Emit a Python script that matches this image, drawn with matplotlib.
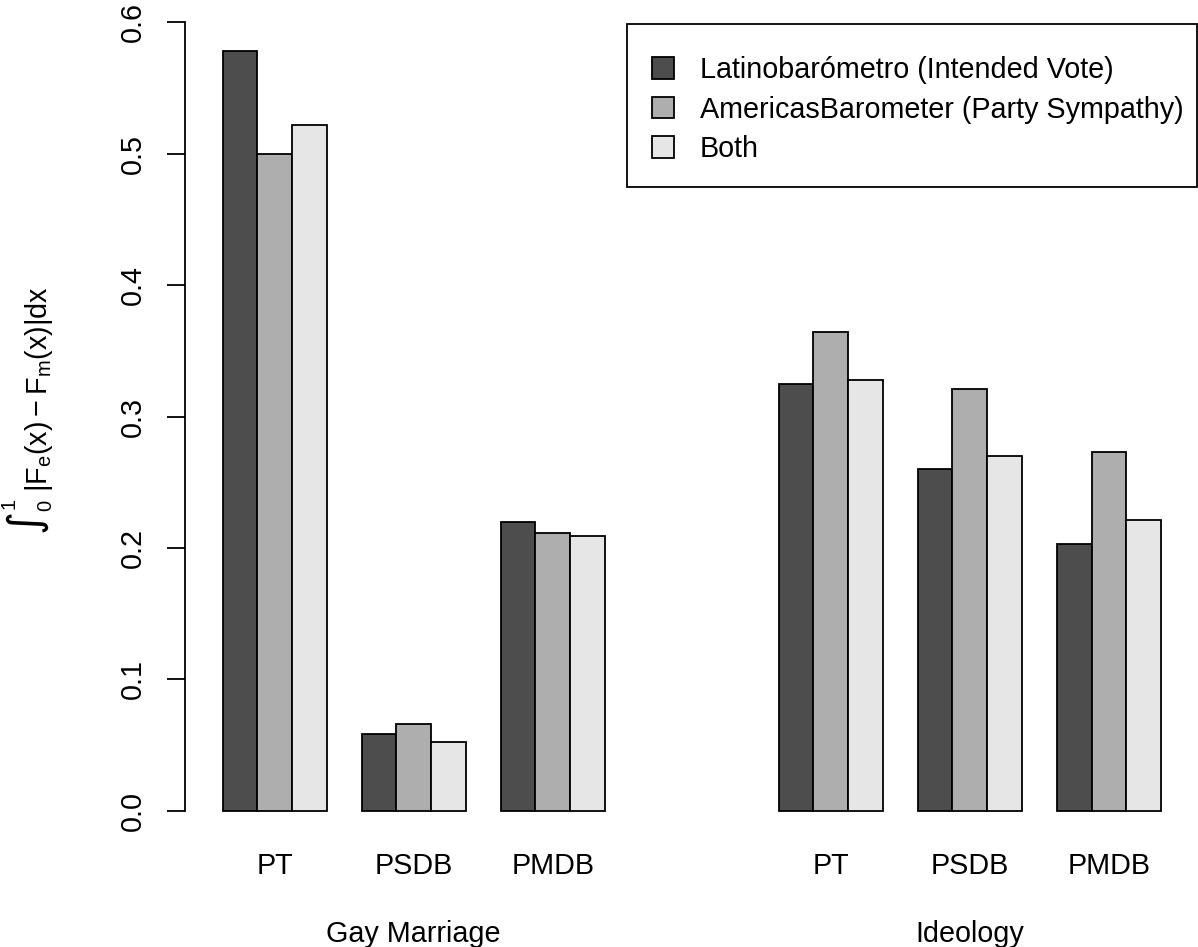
import numpy as np
import matplotlib
matplotlib.use("Agg")
from matplotlib import pyplot as plt
from matplotlib import transforms
from matplotlib.patches import Rectangle, Patch

plt.rcParams['font.family'] = ['Liberation Sans', 'DejaVu Sans']
plt.rcParams['mathtext.fontset'] = 'custom'
plt.rcParams['mathtext.rm'] = 'Liberation Sans'
plt.rcParams['mathtext.it'] = 'Liberation Sans'
plt.rcParams['mathtext.bf'] = 'Liberation Sans:bold'

# data
issues = ["Gay Marriage", "Ideology"]
parties = ["PT", "PSDB", "PMDB"]
series = ["Latinobarómetro (Intended Vote)",
          "AmericasBarometer (Party Sympathy)",
          "Both"]
latino = [0.578, 0.058, 0.220, 0.325, 0.260, 0.203]
americas = [0.500, 0.066, 0.211, 0.364, 0.321, 0.273]
both = [0.522, 0.052, 0.209, 0.328, 0.270, 0.221]
colors = ["#4D4D4D", "#AEAEAE", "#E6E6E6"]

W, H = 1198, 947
fs = 20.7
lw = 1.3

fig = plt.figure(figsize=(W / 100, H / 100), dpi=100)
ax = fig.add_axes([185 / W, 1 - 841 / H, 1013.6 / W, 820 / H])

# bar positions like R barplot(beside=TRUE): one bar gap between groups,
# five bar gap between the two issues
starts = []
for i in range(len(issues)):
    for j in range(len(parties)):
        starts.append(1 + 4 * j + 16 * i)
starts = np.array(starts)

vals = [latino, americas, both]
for k in range(3):
    ax.bar(starts + k, vals[k], width=1, align='edge', color=colors[k],
           edgecolor='black', linewidth=lw)

xmax = starts[-1] + 3
ymax = max(max(latino), max(americas), max(both))
ax.set_xlim(1 - 0.04 * (xmax - 1), xmax + 0.04 * (xmax - 1))
ax.set_ylim(-0.04 * ymax, 1.04 * ymax)

for sp in ['top', 'right', 'bottom']:
    ax.spines[sp].set_visible(False)
ax.spines['left'].set_bounds(0, 0.6)
ax.spines['left'].set_linewidth(lw)

yt = np.arange(0, 0.61, 0.1)
ax.set_yticks(yt)
ax.set_yticklabels(["%.1f" % v for v in yt], rotation=90, fontsize=fs)
for lab in ax.get_yticklabels():
    lab.set_ha('center')
    lab.set_va('center')
ax.tick_params(axis='y', length=13, width=lw, pad=24.5)

ax.set_xticks(starts + 1.5)
ax.set_xticklabels(parties * len(issues), fontsize=fs)
ax.tick_params(axis='x', length=0, pad=8)

trans = transforms.blended_transform_factory(ax.transData, fig.transFigure)
for i, name in enumerate(issues):
    cx = (starts[3 * i] + starts[3 * i + 2] + 3) / 2
    ax.text(cx, 1 - 941.7 / H, name, transform=trans,
            ha='center', va='baseline', fontsize=fs)

# y label, pieced together like R plotmath: integral(..., 0, 1)
fig.text(39 / W, 1 - 492 / H, r'$|\mathrm{F_e(x) - F_m(x)}|\mathrm{dx}$',
         rotation=90, ha='center', va='bottom', fontsize=fs)
fig.text(25 / W, 1 - 520 / H, "\u222b", family='DejaVu Sans',
         rotation=90, ha='center', va='center', fontsize=32)
fig.text(9 / W, 1 - 503 / H, "1", rotation=90, ha='center', va='center',
         fontsize=fs * 0.7)
fig.text(46 / W, 1 - 505 / H, "0", rotation=90, ha='center', va='center',
         fontsize=fs * 0.7)

# legend
handles = [Patch(facecolor=c, edgecolor='black', linewidth=lw) for c in colors]
leg = fig.legend(handles, series, loc='upper left',
                 bbox_to_anchor=(652 / W, 1 - 56 / H), frameon=False,
                 fontsize=fs, handlelength=0.77, handleheight=0.77,
                 handletextpad=0.9, labelspacing=0.40, borderpad=0,
                 borderaxespad=0)
fig.add_artist(Rectangle((627 / W, 1 - 187 / H), 570 / W, 163 / H,
                         transform=fig.transFigure, fill=False,
                         edgecolor='black', linewidth=lw))

plt.savefig('out.png', dpi=100)
